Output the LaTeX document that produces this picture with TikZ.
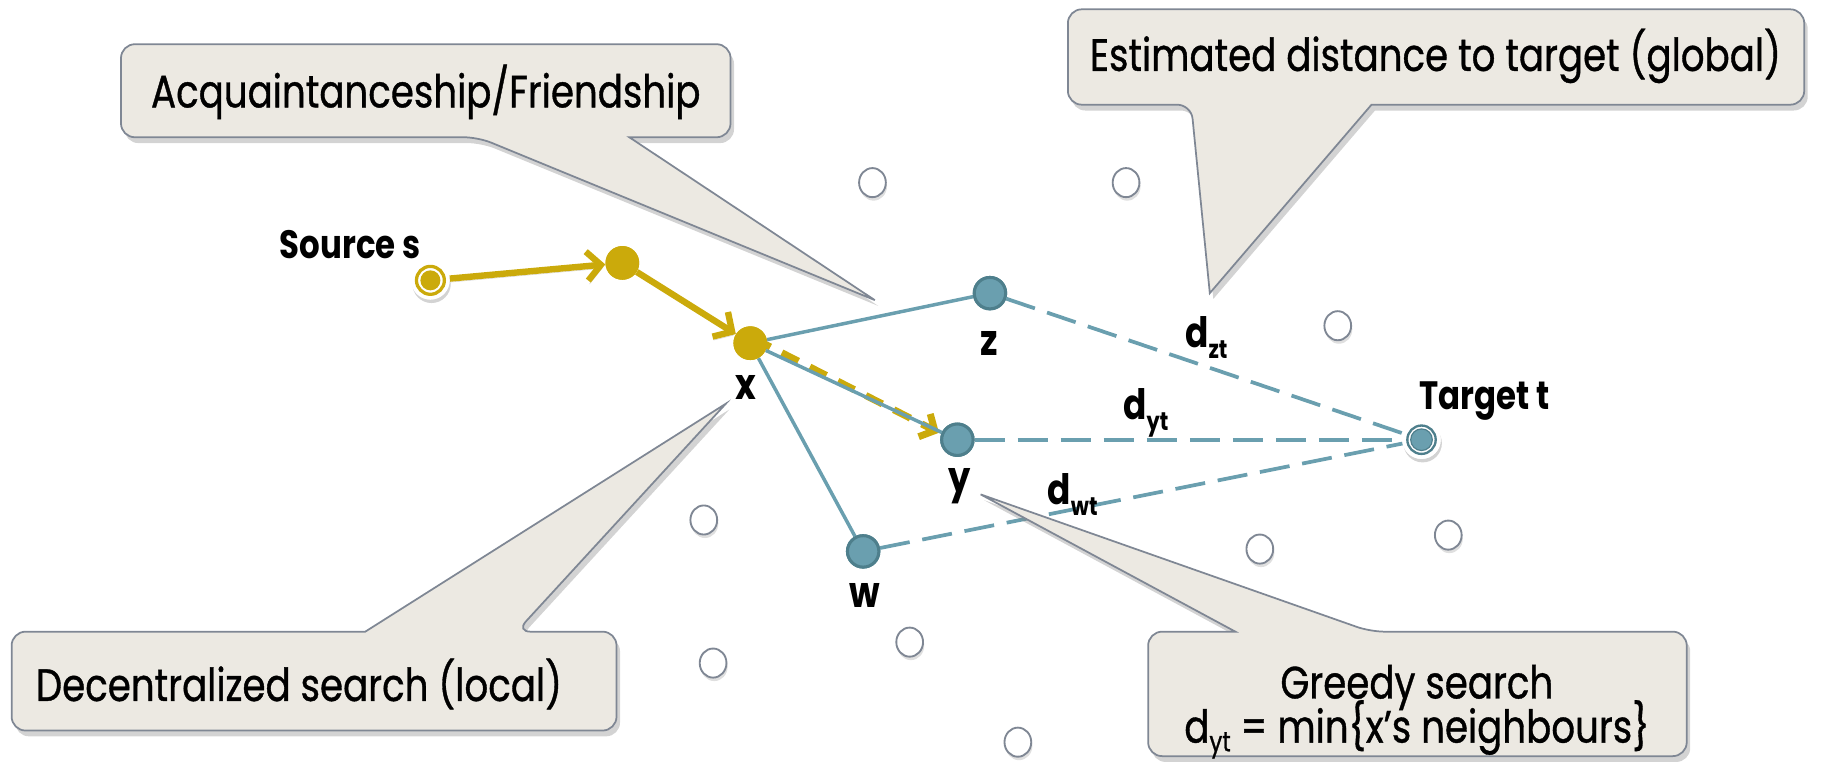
\documentclass[tikz,border=0pt]{standalone}
\usepackage{fontspec}
\setmainfont{Poppins}[FakeStretch=0.82]
\newfontfamily\boxfont{Poppins}[FakeStretch=0.82, FakeBold=0.8]
\usetikzlibrary{arrows.meta,shadows,shapes.geometric}
\definecolor{boxfill}{HTML}{ECE9E2}
\definecolor{boxline}{HTML}{7F8794}
\definecolor{tealc}{HTML}{6A9FAF}
\definecolor{tealdark}{HTML}{4E7F8C}
\definecolor{gold}{HTML}{CBAA0B}
\newcommand{\subtxt}[1]{\raisebox{-0.45ex}{\fontsize{22}{22}\selectfont #1}}
\newcommand{\subtxtr}[1]{\raisebox{-0.35ex}{\fontsize{24}{24}\selectfont #1}}
\tikzset{
  callout/.style={fill=boxfill, draw=boxline, line width=1.5pt,
    drop shadow={shadow xshift=3pt, shadow yshift=-5pt, opacity=0.35}},
  boxtext/.style={font=\boxfont\fontsize{39}{44}\selectfont, inner sep=0pt, align=center},
  lbl/.style={font=\bfseries\fontsize{34}{36}\selectfont, inner sep=0pt},
  letter/.style={font=\bfseries\fontsize{37}{38}\selectfont, inner sep=0pt},
  dlbl/.style={font=\bfseries\fontsize{36}{36}\selectfont, inner sep=0pt},
  tealnode/.style={circle, fill=tealc, draw=tealdark, line width=2.6pt, minimum size=27pt, inner sep=0pt},
  goldnode/.style={circle, fill=gold, minimum size=29pt, inner sep=0pt},
  hollow/.style={ellipse, fill=white, draw=boxline, line width=1.6pt, minimum width=23pt, minimum height=25pt, inner sep=0pt,
    drop shadow={shadow xshift=1pt, shadow yshift=-3pt, opacity=0.25}},
  endnode/.style={circle, fill=white, minimum size=33pt, inner sep=0pt,
    drop shadow={shadow xshift=1pt, shadow yshift=-3pt, opacity=0.35}},
  lineshadow/.style={preaction={draw=black, opacity=0.18, transform canvas={xshift=1pt, yshift=-3pt}}},
  tealline/.style={draw=tealc, line width=3pt},
  tealdash/.style={draw=tealc, line width=3.2pt, dash pattern=on 26pt off 11pt},
  goldarrow/.style={draw=gold, line width=5.5pt, lineshadow, -{Straight Barb[length=12pt,width=25pt]}},
  golddash/.style={draw=gold, line width=6pt, dash pattern=on 16pt off 11pt, -{Straight Barb[length=10pt,width=22pt]}}
}
\begin{document}
\begin{tikzpicture}[x=1pt,y=-1pt]
\useasboundingbox (0,0) rectangle (1568,656);

% hollow background nodes
\node[hollow] (h1) at (750,157) {};
\node[hollow] (h2) at (968,157) {};
\node[hollow] (h3) at (1150,280) {};
\node[hollow] (h4) at (605,447) {};
\node[hollow] (h5) at (1083,472) {};
\node[hollow] (h6) at (1245,460) {};
\node[hollow] (h7) at (782,552) {};
\node[hollow] (h8) at (613,570) {};
\node[hollow] (h9) at (875,638) {};

% main nodes
\node[endnode] (s) at (370,241) {};
\node[goldnode] (a) at (535,226) {};
\node[goldnode] (x) at (645,295) {};
\node[tealnode] (z) at (851,252) {};
\node[tealnode] (y) at (823,378) {};
\node[tealnode] (w) at (742,474) {};
\node[endnode] (t) at (1222,378) {};

% edges
\draw[tealdash] (z) -- (t);
\draw[tealdash] (y) -- (t);
\draw[tealdash] (w) -- (t);
\draw[golddash] ([shift={(3,-4)}]x.center) -- ([shift={(-1,-6)}]y.west);
\draw[tealline] (x) -- (z);
\draw[tealline] (x) -- (y);
\draw[tealline] (x) -- (w);
\draw[goldarrow] (s) -- (a);
\draw[goldarrow] (a) -- (x);

% redraw node faces over edges
\node[goldnode] at (a) {};
\node[goldnode] at (x) {};
\node[tealnode] at (z) {};
\node[tealnode] at (y) {};
\node[tealnode] at (w) {};
\node[circle, fill=white, minimum size=33pt, inner sep=0pt] at (s) {};
\draw[gold, line width=2.8pt] (s) circle (12pt);
\fill[gold] (s) circle (8.6pt);
\node[circle, fill=white, minimum size=33pt, inner sep=0pt] at (t) {};
\draw[tealdark, line width=2pt] (t) circle (12.2pt);
\filldraw[fill=tealc, draw=tealdark, line width=1pt] (t) circle (9.3pt);

% node labels
\node[lbl] (ls) at (301,210) {Source s};
\node[letter] (lx) at (641,333) {x};
\node[letter] (lz) at (850,295) {z};
\node[letter] (ly) at (825,418) {y};
\node[letter] (lw) at (743,512) {w};
\node[lbl] (lt) at (1276,345) {Target t};
\node[dlbl] (dzt) at (1037,290) {d\subtxt{zt}};
\node[dlbl] (dyt) at (985,355) {d\subtxt{yt}};
\node[dlbl] (dwt) at (922,425) {d\subtxt{wt}};

% callout A
\coordinate (tipA) at (752,258);
\path[callout] (tipA) -- (541,118) [rounded corners=12pt] -- (628,118) -- (628,38) -- (104,38) -- (104,118) -- (411,118) [sharp corners] -- cycle;
\node[boxtext] (tA) at (366,79) {Acquaintanceship/Friendship};

% callout B
\coordinate (tipB) at (1040,252);
\path[callout] (tipB) -- (1179,90) [rounded corners=12pt] -- (1551,90) -- (1551,8) -- (918,8) -- (918,90) -- (1024,90) [sharp corners] -- cycle;
\node[boxtext] (tB) at (1234,48) {Estimated distance to target (global)};

% callout C
\coordinate (tipC) at (624,347);
\path[callout] (tipC) -- (314,543) [rounded corners=12pt] -- (10,543) -- (10,628) -- (530,628) -- (530,543) -- (444,543) [sharp corners] -- cycle;
\node[boxtext] (tC) at (257,588) {Decentralized search (local)};

% callout D
\coordinate (tipD) at (843,425);
\path[callout] (tipD) -- (1062,543) [rounded corners=12pt] -- (987,543) -- (987,650) -- (1450,650) -- (1450,543) -- (1178,543) [sharp corners] -- cycle;
\node[boxtext] (tD) at (1218,591) {Greedy search};
\node[boxtext] (tD2) at (1218,627) {d\subtxtr{yt} = min\{x’s neighbours\}};
\end{tikzpicture}
\end{document}
